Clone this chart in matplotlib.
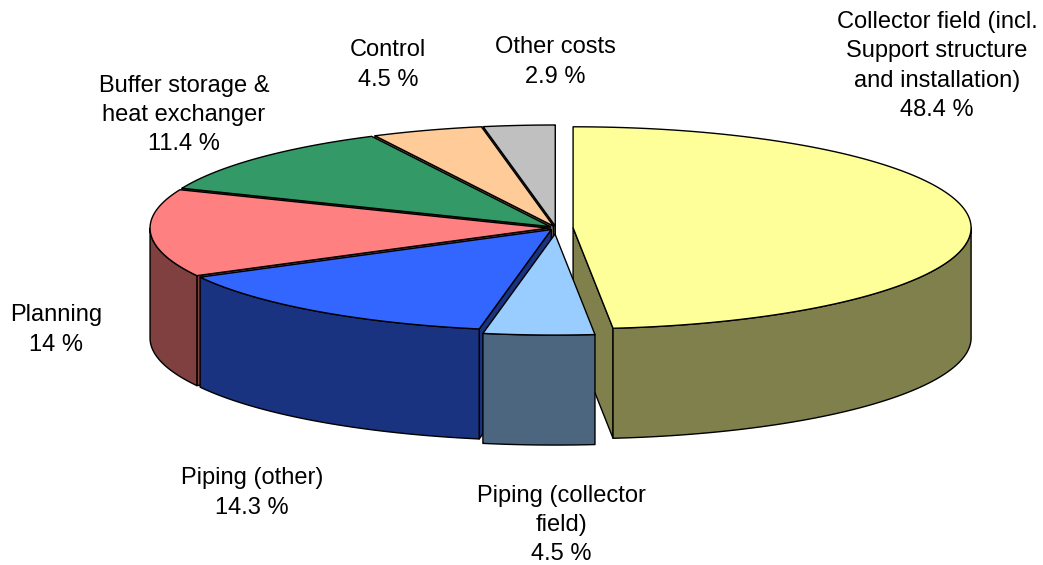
import matplotlib.pyplot as plt
from matplotlib.patches import Polygon
import numpy as np

# cost shares of the solar plant, clockwise from 12 o'clock
names = ['Collector field (incl.\nSupport structure\nand installation)',
         'Piping (collector\nfield)',
         'Piping (other)',
         'Planning',
         'Buffer storage &\nheat exchanger',
         'Control',
         'Other costs']
shares = [48.4, 4.5, 14.3, 14.0, 11.4, 4.5, 2.9]
top_colors = ['#FFFF99', '#99CCFF', '#3366FF', '#FF8080', '#339966', '#FFCC99', '#C0C0C0']
side_colors = ['#80804C', '#4C6680', '#1A3380', '#804040', '#1A4D33', '#80664C', '#606060']
explode = [0.043, 0.06, 0.02, 0.02, 0.02, 0.02, 0.02]
label_pos = [(937, 66), (561, 525), (252, 493), (56, 330), (184, 115), (388, 65), (555, 62)]

# pie geometry in pixels
cx, cy = 556, 228
rx, ry = 398, 101
depth = 110


def proj(x, y, z, off):
    # z = 1 is the top surface, z = 0 the bottom
    return (cx + off[0] + x * rx, cy + off[1] - y * ry + (1 - z) * depth)


fig = plt.figure(figsize=(10.43, 5.65), dpi=100)
ax = fig.add_axes([0, 0, 1, 1])
ax.set_xlim(0, 1043)
ax.set_ylim(565, 0)
ax.axis('off')

fracs = np.array(shares) / sum(shares)
starts = 90 - 360 * np.concatenate([[0], np.cumsum(fracs)[:-1]])
ends = starts - 360 * fracs

walls = []
tops = []
for i in range(len(shares)):
    a_hi, a_lo = starts[i], ends[i]
    mid = np.radians((a_hi + a_lo) / 2)
    off = (explode[i] * np.cos(mid) * rx, -explode[i] * np.sin(mid) * ry)
    oy = explode[i] * np.sin(mid)

    # top face
    t = np.radians(np.linspace(a_hi, a_lo, 120))
    pts = [proj(0, 0, 1, off)] + [proj(np.cos(a), np.sin(a), 1, off) for a in t]
    tops.append((pts, top_colors[i]))

    # outer wall, front half only
    lo, hi = max(a_lo, -180), min(a_hi, 0)
    if hi > lo:
        t = np.radians(np.linspace(hi, lo, 120))
        upper = [proj(np.cos(a), np.sin(a), 1, off) for a in t]
        lower = [proj(np.cos(a), np.sin(a), 0, off) for a in t[::-1]]
        key = oy + np.mean(np.sin(t))
        walls.append((key, upper + lower, side_colors[i]))

    # radial cut faces that face the viewer
    for a, visible in ((a_hi, np.cos(np.radians(a_hi)) < -1e-6),
                       (a_lo, np.cos(np.radians(a_lo)) > 1e-6)):
        if not visible:
            continue
        r = np.radians(a)
        pts = [proj(0, 0, 1, off), proj(np.cos(r), np.sin(r), 1, off),
               proj(np.cos(r), np.sin(r), 0, off), proj(0, 0, 0, off)]
        key = oy + np.sin(r) / 2
        walls.append((key, pts, side_colors[i]))

# back walls first, then the ones closer to the viewer
for key, pts, col in sorted(walls, key=lambda w: -w[0]):
    ax.add_patch(Polygon(pts, closed=True, facecolor=col, edgecolor='black',
                         linewidth=1.0, joinstyle='round'))
for pts, col in tops:
    ax.add_patch(Polygon(pts, closed=True, facecolor=col, edgecolor='black',
                         linewidth=1.0, joinstyle='round'))

for name, v, (x, y) in zip(names, shares, label_pos):
    ax.text(x, y, f'{name}\n{v:g} %', ha='center', va='center',
            fontsize=17, family='Liberation Sans', linespacing=1.44)

fig.savefig('out.png', dpi=100)
